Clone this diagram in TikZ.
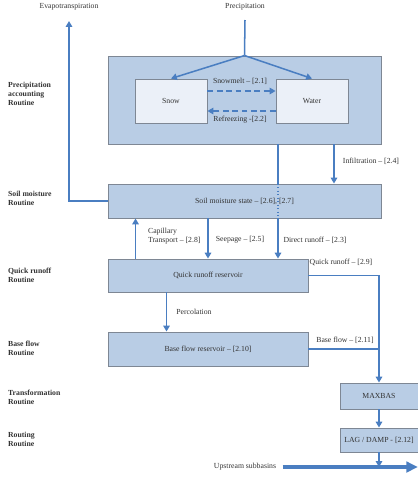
\documentclass[tikz,border=0pt]{standalone}
\usepackage{fontspec}
\setmainfont{Liberation Serif}
\usetikzlibrary{arrows.meta}
\definecolor{flowblue}{HTML}{4A7EC1}
\definecolor{boxblue}{HTML}{B9CDE5}
\definecolor{paleblue}{HTML}{EBF0F8}
\definecolor{boxedge}{HTML}{7E8794}
\begin{document}
\begin{tikzpicture}[x=0.03cm, y=-0.03cm,
    every node/.style={font=\fontsize{6.6}{7.6}\selectfont, text=black!80},
    box/.style={draw=boxedge, fill=boxblue, line width=0.8pt, minimum width=#1},
    inner/.style={draw=boxedge, fill=paleblue, line width=0.8pt, minimum width=2.16cm, minimum height=1.32cm},
    flow/.style={draw=flowblue, line width=1.3pt, -{Triangle[length=5pt,width=5.5pt]}},
    line/.style={draw=flowblue, line width=1.3pt},
    routine/.style={anchor=west, align=left, font=\fontsize{6.6}{7.8}\selectfont\bfseries}]
  \useasboundingbox (0,0) rectangle (418,494);

  \node (evap) at (69,7) {Evapotranspiration};
  \node (precip) at (245,7) {Precipitation};
  \coordinate (evtop) at (69,21);
  \coordinate (prtop) at (245,20);

  \node[box=8.19cm, minimum height=2.64cm] (prec) at (244.5,100) {};
  \node[inner] (snow) at (171,101) {Snow};
  \node[inner] (water) at (312,101) {Water};
  \node[box=8.19cm, minimum height=1.02cm] (soil) at (244.5,201) {Soil moisture state -- [2.6], [2.7]};
  \node[box=6cm, minimum height=0.99cm] (quick) at (208,275.5) {Quick runoff reservoir};
  \node[box=6cm, minimum height=1.02cm] (base) at (208,349) {Base flow reservoir -- [2.10]};
  \node[box=2.34cm, minimum height=0.78cm] (maxbas) at (379,396) {MAXBAS};
  \node[box=2.34cm, minimum height=0.72cm] (lag) at (379,440) {LAG / DAMP - [2.12]};
  \node (upst) at (245,467) {Upstream subbasins};
  \coordinate (out) at (418,467);

  \node[routine] (r1) at (4,94) {Precipitation\\accounting\\Routine};
  \node[routine] (r2) at (4,198.5) {Soil moisture\\Routine};
  \node[routine] (r3) at (4,275.5) {Quick runoff\\Routine};
  \node[routine] (r4) at (4,348.5) {Base flow\\Routine};
  \node[routine] (r5) at (4,397) {Transformation\\Routine};
  \node[routine] (r6) at (4,439.5) {Routing\\Routine};

  \draw[line] (prtop) -- (prec.north);
  \draw[flow] (prec.north) -- (snow.north);
  \draw[flow] (prec.north) -- (water.north);
  \draw[flow, dash pattern=on 5pt off 3pt] ([yshift=0.3cm]snow.east) -- ([yshift=0.3cm]water.west);
  \draw[flow, dash pattern=on 5pt off 3pt] ([yshift=-0.3cm]water.west) -- ([yshift=-0.3cm]snow.east);
  \node (melt) at (240,81) {Snowmelt -- [2.1]};
  \node (refr) at (240,120) {Refreezing -[2.2]};

  \draw[flow] (soil.west) -| (evtop);
  \draw[flow] ([xshift=2.685cm]prec.south) -- ([xshift=2.685cm]soil.north);
  \node (infl) at (371,161) {Infiltration -- [2.4]};

  \coordinate (dr) at ([xshift=1.005cm]prec.south);
  \draw[line] (dr) -- (dr |- soil.north);
  \draw[line, line width=1pt, dotted] (dr |- soil.north) -- (dr |- soil.south);
  \draw[flow] (dr |- soil.south) -- (dr |- quick.north);
  \draw[flow] (soil.south -| quick.north) -- (quick.north);
  \draw[flow] ([xshift=0.84cm]quick.north west) -- ([xshift=0.84cm]quick.north west |- soil.south);
  \node[anchor=west, align=left] (capil) at (144,236) {Capillary\\Transport -- [2.8]};
  \node (seep) at (240,240) {Seepage -- [2.5]};
  \node (direct) at (315,240) {Direct runoff -- [2.3]};

  \draw[flow] ([xshift=1.77cm]quick.south west) -- ([xshift=1.77cm]quick.south west |- base.north);
  \node (perc) at (194,312) {Percolation};

  \draw[flow] (quick.east) -| (maxbas.north);
  \node (qr) at (341,262) {Quick runoff -- [2.9]};
  \draw[line] (base.east) -- (base.east -| maxbas.north);
  \node (bf) at (345,340) {Base flow -- [2.11]};

  \draw[flow] (maxbas.south) -- (lag.north);
  \draw[flow] (lag.south) -- (lag.south |- out);
  \draw[draw=flowblue, line width=2.6pt, -{Triangle[length=10pt,width=9pt]}] ([xshift=2pt]upst.east) -- (out);
\end{tikzpicture}
\end{document}
